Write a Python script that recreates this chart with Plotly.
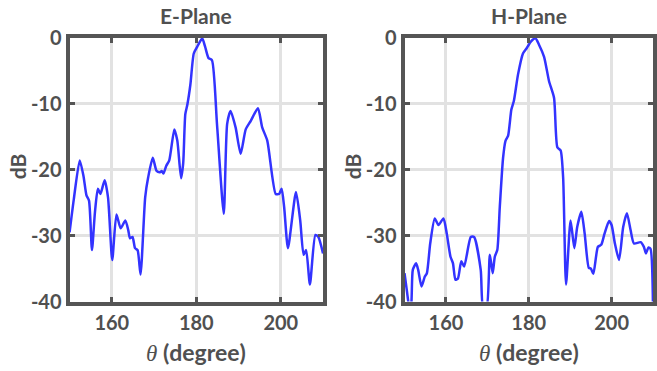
import plotly.graph_objects as go

theta_e = [150.0, 151.0, 152.4, 153.3, 154.0, 154.6, 155.3, 156.0, 156.7, 157.3, 158.3, 159.1, 160.1, 161.1, 162.1,
           163.2, 163.9, 164.3, 164.9, 165.5, 166.1, 166.8, 167.9, 168.6, 169.7, 170.6, 171.4, 171.8, 172.2, 172.9,
           173.6, 174.8, 175.5, 176.4, 176.9, 177.4, 177.9, 178.6, 179.4, 180.2, 181.4, 182.1, 182.9, 183.7, 184.9,
           186.5, 187.3, 188.1, 189.3, 190.5, 191.7, 192.9, 194.6, 195.6, 196.8, 198.8, 199.6, 200.2, 200.8, 201.7,
           203.6, 204.6, 205.4, 206.0, 206.9, 208.2, 208.9, 210.0]
db_e = [-29.5, -24.5, -18.6, -21.0, -23.9, -24.7, -32.2, -26.5, -22.9, -23.7, -21.6, -24.2, -33.7, -26.8, -28.9,
        -27.7, -29.2, -30.4, -30.2, -31.9, -32.2, -35.9, -24.2, -21.2, -18.2, -20.2, -20.4, -20.2, -20.6, -19.4,
        -18.6, -13.9, -15.6, -21.3, -19.0, -11.6, -10.1, -7.1, -2.4, -1.4, -0.1, -1.4, -3.1, -3.4, -13.1,
        -26.7, -13.1, -11.1, -13.6, -17.6, -13.9, -12.6, -10.7, -13.6, -15.6, -23.7, -23.7, -22.9, -25.7, -31.9,
        -23.4, -27.7, -32.9, -32.2, -37.4, -29.9, -30.2, -32.7]

theta_h = [150.0, 150.6, 151.2, 151.6, 152.0, 152.8, 153.3, 154.1, 154.9, 155.4, 156.2, 157.3, 158.2, 159.4, 160.2,
           161.1, 161.7, 162.3, 162.9, 163.7, 164.4, 166.0, 166.8, 168.4, 169.0, 169.8, 170.6, 171.3, 171.8, 172.4,
           173.0, 173.8, 174.4, 175.0, 175.8, 176.4, 177.4, 178.6, 179.5, 180.5, 181.6, 182.5, 183.7, 184.9, 186.1,
           186.9, 187.7, 188.3, 189.0, 190.1, 191.0, 191.7, 192.7, 193.5, 194.5, 195.0, 195.6, 196.7, 197.5, 198.3,
           199.4, 200.0, 200.8, 201.8, 202.8, 203.7, 204.6, 205.4, 207.0, 207.8, 208.3, 208.9, 209.4, 210.0]
db_h = [-35.7, -38.5, -41.0, -40.5, -35.2, -34.2, -35.2, -37.7, -36.2, -35.7, -31.2, -27.4, -28.4, -27.4, -29.7,
        -33.2, -34.2, -36.7, -36.5, -33.9, -34.7, -30.2, -30.2, -35.2, -41.0, -41.0, -32.9, -35.7, -33.2, -32.2,
        -25.7, -18.2, -15.6, -14.9, -10.9, -9.6, -5.6, -2.4, -1.6, -0.6, -0.1, -1.1, -2.9, -6.6, -9.1,
        -16.6, -17.1, -21.2, -37.4, -27.7, -31.9, -28.7, -26.4, -29.7, -34.9, -35.0, -35.8, -31.7, -31.4, -29.7,
        -27.8, -28.4, -31.2, -33.7, -28.7, -26.6, -29.2, -31.2, -31.0, -31.7, -32.7, -31.8, -32.0, -41.0]

x_ticks = [160, 180, 200]
y_ticks = [0, -10, -20, -30, -40]
titles = ["E-Plane", "H-Plane"]

TXT = "#505050"
FONT = "Lato"
LINE = "#555555"
GRID = "#e2e2e2"
W, H = 657, 371


def fx(v):
    return v / W


def fy(v):
    return 1 - (v - 10.5) / 0.948 / H


fig = go.Figure()
fig.add_trace(go.Scatter(x=theta_e, y=db_e, mode="lines",
                         line=dict(color="#3333ff", width=2.5, shape="spline", smoothing=0.6),
                         xaxis="x", yaxis="y", showlegend=False))
fig.add_trace(go.Scatter(x=theta_h, y=db_h, mode="lines",
                         line=dict(color="#3333ff", width=2.5, shape="spline", smoothing=0.6),
                         xaxis="x2", yaxis="y2", showlegend=False))

doms_x = [[fx(70), fx(325)], [fx(407), 1.0]]
dom_y = [fy(303), fy(35.5)]

axcommon = dict(showline=True, linewidth=4, linecolor=LINE, mirror="ticks", ticks="inside", ticklen=5,
                tickwidth=3, tickcolor=LINE, showgrid=True, gridcolor=GRID, gridwidth=3, zeroline=False,
                tickfont=dict(family=FONT, size=20, color=TXT, weight="bold"))

layout = dict(width=W, height=H, margin=dict(l=0, r=0, t=0, b=0), plot_bgcolor="white", paper_bgcolor="white")
for i in range(2):
    sfx = "" if i == 0 else str(i + 1)
    layout["xaxis" + sfx] = dict(axcommon, domain=doms_x[i], range=[150, 210], tickvals=x_ticks,
                                 ticktext=[str(v) for v in x_ticks], anchor="y" + sfx)
    layout["yaxis" + sfx] = dict(axcommon, domain=dom_y, range=[-40, 0], tickvals=y_ticks,
                                 ticktext=[str(v) for v in y_ticks], anchor="x" + sfx)
fig.update_layout(**layout)

centers = [197, 532]
dbx = [18, 355]
anns = []
for i in range(2):
    cx = fx(centers[i])
    anns.append(dict(text="<b>" + titles[i] + "</b>", x=cx, y=fy(13.5), xref="paper", yref="paper",
                     showarrow=False, font=dict(family=FONT, size=21, color=TXT), xanchor="center", yanchor="middle"))
    anns.append(dict(text='<span style="font-family:Liberation Serif"><i>θ</i></span><b> (degree)</b>', x=cx,
                     y=fy(354), xref="paper", yref="paper", showarrow=False,
                     font=dict(family=FONT, size=23, color=TXT), xanchor="center", yanchor="middle"))
    anns.append(dict(text="<b>dB</b>", x=fx(dbx[i]), y=fy(166), xref="paper", yref="paper",
                     showarrow=False, textangle=-90, font=dict(family=FONT, size=21, color=TXT),
                     xanchor="center", yanchor="middle"))
fig.update_layout(annotations=anns)

fig.write_html("out.html")
